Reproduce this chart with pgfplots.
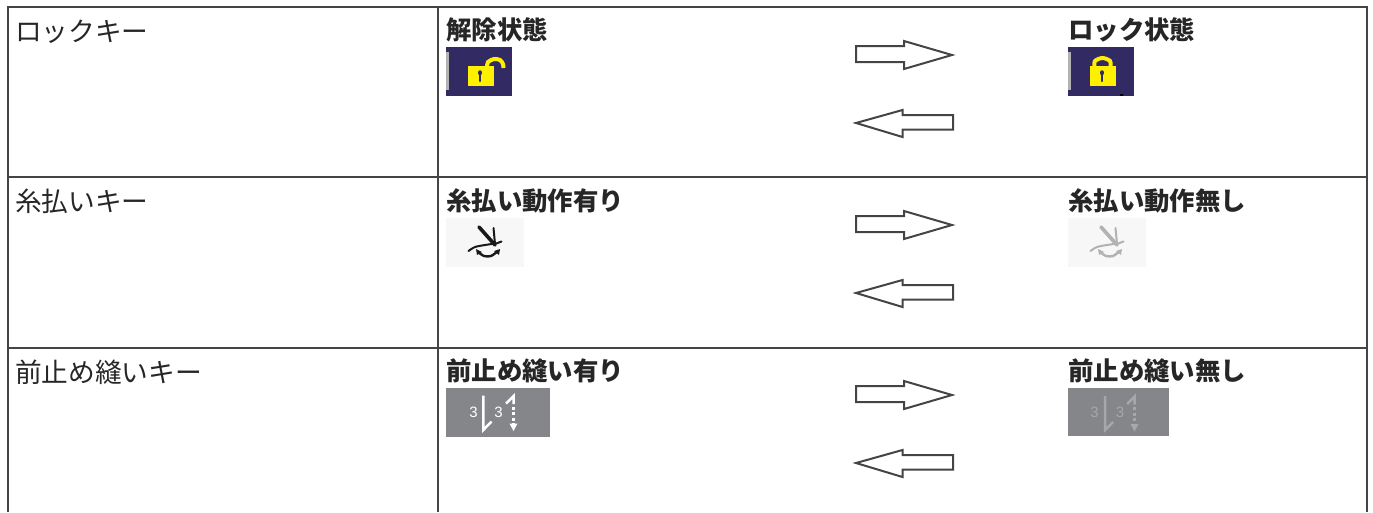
\documentclass[border=0pt]{standalone}
\usepackage{pgfplots}
\pgfplotsset{compat=1.18}
\usepackage{fontspec}
\setmainfont{Liberation Sans}
\newfontfamily\cjk{Noto Sans CJK JP}
\definecolor{navy}{HTML}{322A63}
\definecolor{lock}{HTML}{FFF000}
\definecolor{rule}{HTML}{444444}
\definecolor{txt}{HTML}{262626}
\definecolor{dk}{HTML}{85868A}
\definecolor{fgb}{HTML}{A6A7AA}
\newcommand{\lab}[3]{\node[anchor=west,inner sep=0pt,text=txt,font=\cjk\fontsize{#3}{#3}\selectfont] at (axis cs:#1) {#2};}
\pgfplotsset{ar/.style={draw=rule,line width=2pt,no markers,line join=miter},
 bx/.style={draw=none,no markers},
 ln/.style={no markers,line cap=round}}
\begin{document}
\begin{tikzpicture}
\useasboundingbox (0,0) rectangle (1373pt,512pt);
\begin{axis}[hide axis,scale only axis,width=1373pt,height=512pt,xmin=0,xmax=1373,ymin=0,ymax=512,y dir=reverse,clip=false,anchor=south west,at={(0,0)}]
% table rules
\addplot[no markers,draw=rule,line width=2pt] coordinates {(7.5,512)(7.5,6.5)(1366.5,6.5)(1366.5,512)};
\addplot[no markers,draw=rule,line width=2pt] coordinates {(437.5,6.5)(437.5,512)};
\addplot[no markers,draw=rule,line width=2pt] coordinates {(7.5,177)(1366.5,177)};
\addplot[no markers,draw=rule,line width=2pt] coordinates {(7.5,347.5)(1366.5,347.5)};
% labels
\lab{15,31.5}{ロックキー}{26.7}
\lab{15,201.5}{糸払いキー}{26.7}
\lab{15,372.5}{前止め縫いキー}{26.7}
\lab{446,30}{\bfseries 解除状態}{25.4}
\lab{1068,30}{\bfseries ロック状態}{25.4}
\lab{446,201}{\bfseries 糸払い動作有り}{25.4}
\lab{1068,201}{\bfseries 糸払い動作無し}{25.4}
\lab{446,371}{\bfseries 前止め縫い有り}{25.4}
\lab{1068,371}{\bfseries 前止め縫い無し}{25.4}
% arrows
\addplot[ar] coordinates {(856,46)(904,46)(904,41)(952,55)(904,69)(904,62)(856,62)} -- cycle;
\addplot[ar] coordinates {(856,123)(902.5,110)(902.5,115)(953,115)(953,129.5)(902.5,129.5)(902.5,137)} -- cycle;
\addplot[ar] coordinates {(856,216)(904,216)(904,211)(952,225)(904,239)(904,232)(856,232)} -- cycle;
\addplot[ar] coordinates {(856,293)(902.5,280)(902.5,285)(953,285)(953,299.5)(902.5,299.5)(902.5,307)} -- cycle;
\addplot[ar] coordinates {(856,386)(904,386)(904,381)(952,395)(904,409)(904,402)(856,402)} -- cycle;
\addplot[ar] coordinates {(856,463)(902.5,450)(902.5,455)(953,455)(953,469.5)(902.5,469.5)(902.5,477)} -- cycle;
% unlocked icon
\addplot[bx,fill=navy] coordinates {(446,47)(512,47)(512,96)(446,96)} -- cycle;
\addplot[bx,fill=black!30] coordinates {(446,52)(448.5,52)(448.5,90)(446,90)} -- cycle;
\addplot[bx,fill=lock] coordinates {(467.5,66)(493.5,66)(493.5,86)(467.5,86)} -- cycle;
\addplot[no markers,smooth,draw=lock,line width=4pt] coordinates {(487,67)(488,62)(494,59)(500,60)(503,64)(503.5,68)};
\addplot[ln,draw=navy,line width=4.5pt] coordinates {(480,72.5)(480,73)};
\addplot[ln,draw=navy,line width=2.5pt] coordinates {(480,74)(480,81)};
% locked icon
\addplot[bx,fill=navy] coordinates {(1068,47)(1134,47)(1134,96)(1068,96)} -- cycle;
\addplot[bx,fill=black!30] coordinates {(1068,52)(1070.5,52)(1070.5,90)(1068,90)} -- cycle;
\addplot[bx,fill=lock] coordinates {(1089.5,66)(1115.5,66)(1115.5,86)(1089.5,86)} -- cycle;
\addplot[no markers,smooth,draw=lock,line width=4pt] coordinates {(1094.5,68)(1095,61)(1102.5,58)(1110,61)(1110.5,68)};
\addplot[ln,draw=navy,line width=4.5pt] coordinates {(1102,72.5)(1102,73)};
\addplot[ln,draw=navy,line width=2.5pt] coordinates {(1102,74)(1102,81)};
\addplot[ln,draw=black,line width=2pt] coordinates {(1120.5,95)(1122.5,95)};
% thread-trim icon on
\addplot[bx,fill=black!3] coordinates {(446,218)(524,218)(524,267)(446,267)} -- cycle;
\addplot[ln,draw=black!90,line width=3.6pt] coordinates {(479,227)(495,245)};
\addplot[ln,draw=black!90,line width=2pt] coordinates {(493.5,228)(495,244)(501.5,241.5)};
\addplot[ln,draw=black!90,line width=2pt,smooth] coordinates {(468.5,251)(475,247)(485,245)(495,243.5)};
\addplot[ln,draw=black!90,line width=2.4pt,smooth] coordinates {(478,252)(484,256)(491,256)(498,251)};
\addplot[bx,fill=black!90] coordinates {(476,249)(482,252)(477,255)} -- cycle;
\addplot[bx,fill=black!90] coordinates {(500,249)(494,251)(499,255)} -- cycle;
% thread-trim icon off
\addplot[bx,fill=black!3] coordinates {(1068,218)(1146,218)(1146,267)(1068,267)} -- cycle;
\addplot[ln,draw=black!30,line width=3.6pt] coordinates {(1101,227)(1117,245)};
\addplot[ln,draw=black!30,line width=2pt] coordinates {(1115.5,228)(1117,244)(1123.5,241.5)};
\addplot[ln,draw=black!30,line width=2pt,smooth] coordinates {(1090.5,251)(1097,247)(1107,245)(1117,243.5)};
\addplot[ln,draw=black!30,line width=2.4pt,smooth] coordinates {(1100,252)(1106,256)(1113,256)(1120,251)};
\addplot[bx,fill=black!30] coordinates {(1098,249)(1104,252)(1099,255)} -- cycle;
\addplot[bx,fill=black!30] coordinates {(1122,249)(1116,251)(1121,255)} -- cycle;
% back-tack icon on
\addplot[bx,fill=dk] coordinates {(446,388)(550,388)(550,437)(446,437)} -- cycle;
\node[text=white,inner sep=0pt,font=\fontsize{15}{15}\selectfont] at (axis cs:473.5,412) {3};
\node[text=white,inner sep=0pt,font=\fontsize{15}{15}\selectfont] at (axis cs:498.5,412) {3};
\addplot[no markers,draw=white,line width=2.5pt] coordinates {(483.3,395.5)(483.3,430)(491.5,421.5)};
\addplot[no markers,draw=white,line width=2.5pt] coordinates {(506,403.5)(513.7,396)(513.7,404)};
\addplot[no markers,draw=white,line width=2.5pt,dash pattern=on 3pt off 2.5pt] coordinates {(513.5,406.5)(513.5,424)};
\addplot[bx,fill=white] coordinates {(509.5,423.5)(517.5,423.5)(513.5,431)} -- cycle;
% back-tack icon off
\addplot[bx,fill=dk] coordinates {(1068,388)(1169,388)(1169,436)(1068,436)} -- cycle;
\node[text=fgb,inner sep=0pt,font=\fontsize{15}{15}\selectfont] at (axis cs:1094.5,412.5) {3};
\node[text=fgb,inner sep=0pt,font=\fontsize{15}{15}\selectfont] at (axis cs:1120,412.5) {3};
\addplot[no markers,draw=fgb,line width=2.5pt] coordinates {(1105,396)(1105,430)(1113,422)};
\addplot[no markers,draw=fgb,line width=2.5pt] coordinates {(1127,404)(1134.5,396.5)(1134.5,404.5)};
\addplot[no markers,draw=fgb,line width=2.5pt,dash pattern=on 3pt off 2.5pt] coordinates {(1134.5,407)(1134.5,424)};
\addplot[bx,fill=fgb] coordinates {(1130.5,424)(1138.5,424)(1134.5,431.5)} -- cycle;
\end{axis}
\end{tikzpicture}
\end{document}
